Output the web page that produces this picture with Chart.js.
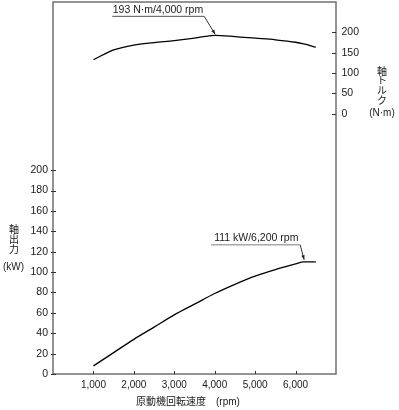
<!DOCTYPE html>
<html>
<head>
<meta charset="utf-8">
<script src="https://cdn.jsdelivr.net/npm/chart.js@4"></script>
<style>
  html, body { margin: 0; padding: 0; background: #fff; }
  #wrap { width: 399px; height: 410px; }
</style>
</head>
<body>
<div id="wrap"><canvas id="engineChart" width="399" height="410"></canvas></div>
<script>
/* engine speed (rpm) and read-off curve values */
var rpm     = [1000, 1500, 2000, 2500, 3000, 3500, 4000, 4500, 5000, 5500, 6000, 6200, 6500];
var powerKw = [8, 21, 34, 46, 58, 68.5, 79, 88, 96, 102.5, 108, 110, 110];
var torqueNm = [133, 157, 169, 175, 180, 186, 193, 190, 186, 182, 176, 172, 164];

var rpmTicks    = [1000, 2000, 3000, 4000, 5000, 6000];
var powerTicks  = [0, 20, 40, 60, 80, 100, 120, 140, 160, 180, 200];
var torqueTicks = [0, 50, 100, 150, 200];

var torquePeak = { rpm: 4000, value: 193, label: '193 N\u00B7m/4,000 rpm' };
var powerPeak  = { rpm: 6200, value: 111, label: '111 kW/6,200 rpm' };

var LATIN = "'Liberation Sans', Arial, 'Noto Sans CJK JP', sans-serif";
var INK = '#1a1a1a';

function toPoints(xs, ys) {
    return xs.map(function (x, i) { return { x: x, y: ys[i] }; });
}
function fixedTicks(list) {
    return function (scale) {
        scale.ticks = list.map(function (v) { return { value: v }; });
    };
}
// fixed box size, no label overflow padding
function fitBox(w, h) {
    return function (s) {
        if (w) s.width = w;
        if (h) s.height = h;
        s.paddingTop = 0; s.paddingBottom = 0;
        s.paddingLeft = 0; s.paddingRight = 0;
    };
}

/* frame, tick marks, titles and callouts */
var decorPlugin = {
    id: 'decor',
    afterDraw: function (chart) {
        var c = chart.ctx, a = chart.chartArea;
        var sx = chart.scales.x, sp = chart.scales.y, st = chart.scales.y1;
        c.save();

        // frame
        c.strokeStyle = '#707070';
        c.lineWidth = 1.5;
        c.strokeRect(a.left, a.top, a.right - a.left, a.bottom - a.top);

        // tick marks
        c.strokeStyle = '#333';
        c.lineWidth = 1;
        c.beginPath();
        rpmTicks.forEach(function (v) {
            var px = Math.round(sx.getPixelForValue(v)) + 0.5;
            c.moveTo(px, a.bottom); c.lineTo(px, a.bottom - 3);
        });
        powerTicks.forEach(function (v) {
            var py = Math.round(sp.getPixelForValue(v)) + 0.5;
            c.moveTo(a.left - 2, py); c.lineTo(a.left + 3, py);
        });
        torqueTicks.forEach(function (v) {
            var py = Math.round(st.getPixelForValue(v)) + 0.5;
            c.moveTo(a.right, py); c.lineTo(a.right - 4, py);
        });
        c.stroke();

        // axis titles
        c.fillStyle = INK;
        c.textAlign = 'center';
        c.textBaseline = 'middle';
        c.font = '10px ' + LATIN;
        ['軸', '出', '力'].forEach(function (ch, i) { c.fillText(ch, 14, 230 + i * 10); });
        c.fillText('(kW)', 13.5, 267);
        ['軸', 'ト', 'ル', 'ク'].forEach(function (ch, i) { c.fillText(ch, 382, 72 + i * 9.6); });
        c.fillText('(N\u00B7m)', 382, 113);
        c.textAlign = 'left';
        c.fillText('原動機回転速度\u3000(rpm)', 136, 402);

        // callouts
        function callout(peak, scale, dx, dy, lineLen, lineColor, lineW, textGap) {
            var tipX = sx.getPixelForValue(peak.rpm) + 0.5;
            var tipY = scale.getPixelForValue(peak.value) - 1;
            var tailX = tipX + dx, tailY = tipY + dy;
            c.strokeStyle = lineColor;
            c.lineWidth = lineW;
            c.beginPath();
            c.moveTo(tailX - lineLen, tailY);
            c.lineTo(tailX, tailY);
            c.stroke();
            c.strokeStyle = '#333';
            c.lineWidth = 1;
            c.beginPath();
            c.moveTo(tailX, tailY);
            c.lineTo(tipX, tipY);
            c.stroke();
            var ang = Math.atan2(tipY - tailY, tipX - tailX);
            c.fillStyle = '#222';
            c.beginPath();
            c.moveTo(tipX, tipY);
            c.lineTo(tipX - 5 * Math.cos(ang - 0.35), tipY - 5 * Math.sin(ang - 0.35));
            c.lineTo(tipX - 5 * Math.cos(ang + 0.35), tipY - 5 * Math.sin(ang + 0.35));
            c.closePath();
            c.fill();
            c.fillStyle = INK;
            c.font = '10.5px ' + LATIN;
            c.textAlign = 'left';
            c.textBaseline = 'alphabetic';
            c.fillText(peak.label, tailX - lineLen + 0.5 + textGap, tailY - 3.5);
        }
        callout(torquePeak, st, -11, -18, 92, '#555', 1, 0);
        callout(powerPeak, sp, -4, -15, 89, '#a8a8a8', 1.5, 2.5);

        c.restore();
    }
};

var lineStyle = {
    borderColor: '#000',
    borderWidth: 1.3,
    pointRadius: 0,
    fill: false,
    cubicInterpolationMode: 'monotone'
};

var hiddenGrid = { display: false, drawTicks: false };

new Chart(document.getElementById('engineChart'), {
    type: 'line',
    data: {
        datasets: [
            Object.assign({ label: '軸出力', data: toPoints(rpm, powerKw), yAxisID: 'y' }, lineStyle),
            Object.assign({ label: '軸トルク', data: toPoints(rpm, torqueNm), yAxisID: 'y1' }, lineStyle)
        ]
    },
    options: {
        responsive: false,
        animation: false,
        devicePixelRatio: 1,
        layout: { padding: { top: 2, left: 0, right: 0, bottom: 0 } },
        plugins: { legend: { display: false }, tooltip: { enabled: false } },
        scales: {
            x: {
                type: 'linear',
                min: 0,
                max: 7000,
                afterBuildTicks: fixedTicks(rpmTicks),
                afterFit: fitBox(0, 36),
                grid: hiddenGrid,
                border: { display: false },
                ticks: {
                    color: INK,
                    padding: 5,
                    maxRotation: 0,
                    autoSkip: false,
                    font: { family: LATIN, size: 10 },
                    callback: function (v) { return v.toLocaleString('en-US'); }
                }
            },
            y: {
                position: 'left',
                min: 0,
                max: 365,
                afterBuildTicks: fixedTicks(powerTicks),
                afterFit: fitBox(53, 0),
                grid: hiddenGrid,
                border: { display: false },
                ticks: { color: INK, padding: 5, autoSkip: false, font: { family: LATIN, size: 10.5 } }
            },
            y1: {
                position: 'right',
                min: -640,
                max: 275,
                afterBuildTicks: fixedTicks(torqueTicks),
                afterFit: fitBox(63, 0),
                grid: hiddenGrid,
                border: { display: false },
                ticks: { color: INK, padding: 5.5, autoSkip: false, font: { family: LATIN, size: 10.5 } }
            }
        }
    },
    plugins: [decorPlugin]
});
</script>
</body>
</html>
